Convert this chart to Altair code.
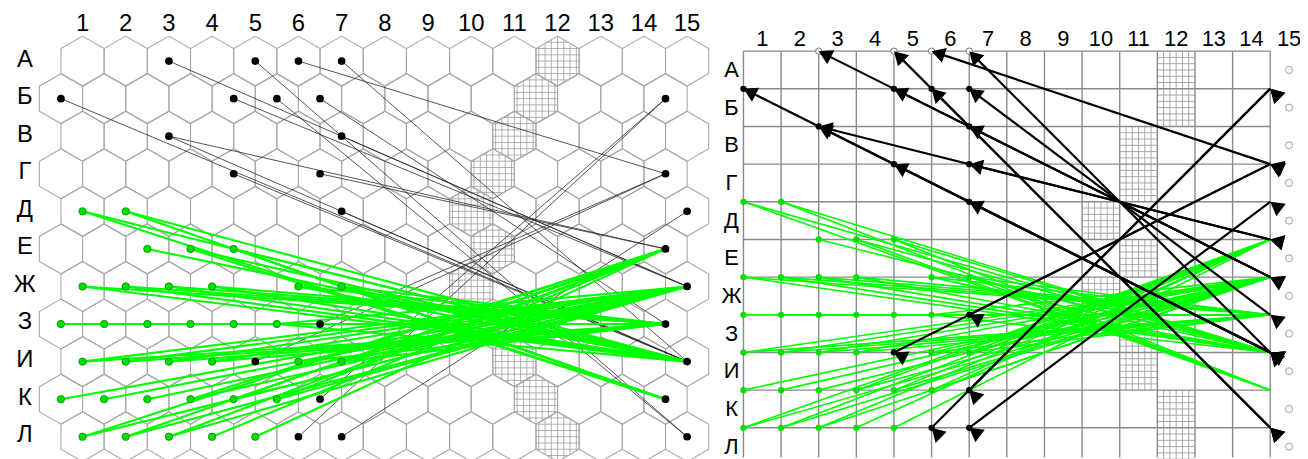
import math
import altair as alt
import pandas as pd

# ---------------- data ----------------
ROWS = ["А", "Б", "В", "Г", "Д", "Е", "Ж", "З", "И", "К", "Л"]
COLS = [str(c) for c in range(1, 16)]

title_text = "Пробоина в средней нижней стоке (С11)."

black_sources = ["А3", "А5", "А6", "А7", "Б1", "Б5", "Б6", "Б7", "В3", "В7",
                 "Г5", "Г7", "Д7", "З7", "И5", "К7", "Л6", "Л7"]
green_sources = ["Д1", "Д2", "Е3", "Е4", "Е5", "Ж1", "Ж2", "Ж3", "Ж4", "Ж6", "Ж7",
                 "З1", "З2", "З3", "З4", "З5", "З6", "И1", "И2", "И3", "И4", "И6", "И7",
                 "К1", "К2", "К3", "К4", "К5", "К6", "Л1", "Л2", "Л3", "Л4", "Л5"]
targets = ["Б15", "Г15", "Д15", "Е15", "Ж15", "З15", "И15", "К15", "Л15"]

black_links = [("А3", "Ж15"), ("Б5", "Ж15"), ("В7", "Ж15"),
               ("А5", "Л15"), ("Б6", "Л15"),
               ("А6", "Г15"),
               ("А7", "И15"), ("Б7", "З15"),
               ("Б1", "И15"), ("В3", "И15"), ("Г5", "И15"), ("Д7", "И15"),
               ("В3", "Е15"), ("Г7", "Е15"),
               ("К7", "Б15"), ("Л6", "Б15"),
               ("З7", "Г15"), ("И5", "Г15"),
               ("Л7", "Д15")]

green_to_E = ["И7", "К4", "К5", "К6", "Л1", "Л2", "Л3", "Л4", "Л5"]
green_to_Zh = ["З6", "И1", "И2", "И3", "И4", "И6", "И7", "К1", "К2", "К3", "К4", "К5", "К6",
               "Л1", "Л2", "Л3"]
green_to_Z = ["Ж1", "Ж2", "Ж3", "Ж4", "Ж6", "Ж7", "З1", "З2", "З3", "З4", "З5", "З6",
              "И1", "И2", "И3", "И4", "И6", "И7"]
green_to_I = ["Д1", "Д2", "Е3", "Е4", "Е5", "Ж1", "Ж2", "Ж3", "Ж4", "Ж6", "Ж7", "З6"]
green_to_K = ["Д1", "Д2", "Е4", "Е5", "Ж7"]

wall_cells = ["А12", "Б12", "В11", "Г11", "Д10", "Е11", "Ж10", "З11", "И11", "К12", "Л12"]
top_open_sources = ["А3", "А5", "А6", "А7"]

# ---------------- layout constants ----------------
W, H = 1300, 451
L_XDOM = [-0.7261, 29.193]
L_YDOM = [10.5556, -1.3757]
R_XDOM = [-18.546, 15.7913]
R_YDOM = [10.7916, -1.10818]
L_PX = (43.45, 37.8)      # px per unit (hex panel)
R_PX = (37.86, 37.9)      # px per unit (square panel)
GREEN = "#00ff00"


def cell(code):
    return ROWS.index(code[0]), int(code[1:])


def hexpos(code):
    r, c = cell(code)
    return c - 0.5 * (r % 2), r


def sqpos(code):
    r, c = cell(code)
    return c, r


green_links = ([(s, "Е15") for s in green_to_E] + [(s, "Ж15") for s in green_to_Zh] +
               [(s, "З15") for s in green_to_Z] + [(s, "И15") for s in green_to_I] +
               [(s, "К15") for s in green_to_K])

lx = alt.Scale(domain=L_XDOM, nice=False, zero=False)
ly = alt.Scale(domain=L_YDOM, nice=False, zero=False)
rx = alt.Scale(domain=R_XDOM, nice=False, zero=False)
ry = alt.Scale(domain=R_YDOM, nice=False, zero=False)


def X(s, f="x"):
    return alt.X(f"{f}:Q", scale=s, axis=None)


def Y(s, f="y"):
    return alt.Y(f"{f}:Q", scale=s, axis=None)


# ---------------- hex panel ----------------
R_HEX = L_PX[0] / math.sqrt(3)          # circumradius px
rr = R_HEX / L_PX[1]                    # in row units
hex_off = [(0, -rr), (0.5, -rr / 2), (0.5, rr / 2), (0, rr), (-0.5, rr / 2), (-0.5, -rr / 2), (0, -rr)]
hex_rows = []
for r in range(len(ROWS)):
    for c in range(1, 16):
        code = f"{ROWS[r]}{c}"
        cx, cy = hexpos(code)
        for k, (dx, dy) in enumerate(hex_off):
            hex_rows.append({"hid": code, "k": k, "x": cx + dx, "y": cy + dy})
hex_df = pd.DataFrame(hex_rows)

# hatch inside wall hexes
hatch_l = []
a_px = L_PX[0] / 2
step = 6.3
for code in wall_cells:
    cx, cy = hexpos(code)
    for k in range(-3, 4):
        d = k * step
        hh = R_HEX - (R_HEX / 2) * abs(d) / a_px
        hatch_l.append({"x": cx + d / L_PX[0], "x2": cx + d / L_PX[0],
                        "y": cy - hh / L_PX[1], "y2": cy + hh / L_PX[1]})
        hw = a_px if abs(d) <= R_HEX / 2 else a_px * (R_HEX - abs(d)) / (R_HEX / 2)
        hatch_l.append({"x": cx - hw / L_PX[0], "x2": cx + hw / L_PX[0],
                        "y": cy + d / L_PX[1], "y2": cy + d / L_PX[1]})
hatch_l_df = pd.DataFrame(hatch_l)


def link_df(links, pos):
    rows = []
    for s, t in links:
        x1, y1 = pos(s)
        x2, y2 = pos(t)
        rows.append({"x": x1, "y": y1, "x2": x2, "y2": y2, "src": s, "tgt": t})
    return pd.DataFrame(rows)


def pts_df(codes, pos):
    return pd.DataFrame([{"x": pos(c)[0], "y": pos(c)[1], "cell": c} for c in codes])


lb = link_df(black_links, hexpos)
lg = link_df(green_links, hexpos)

left_layers = [
    alt.Chart(hatch_l_df).mark_rule(color="#9c9c9c", strokeWidth=0.8).encode(
        x=X(lx), y=Y(ly), x2="x2:Q", y2="y2:Q"),
    alt.Chart(hex_df).mark_line(color="#a8a8a8", strokeWidth=1.1).encode(
        x=X(lx), y=Y(ly), detail="hid:N", order="k:Q"),
    alt.Chart(lb).mark_rule(color="#2a2a2a", strokeWidth=0.8).encode(
        x=X(lx), y=Y(ly), x2="x2:Q", y2="y2:Q"),
    alt.Chart(lg).mark_rule(color=GREEN, strokeWidth=2.1).encode(
        x=X(lx), y=Y(ly), x2="x2:Q", y2="y2:Q"),
    alt.Chart(pts_df(green_sources, hexpos)).mark_circle(
        size=55, color="#00e000", opacity=1, stroke="#008800", strokeWidth=0.8).encode(
        x=X(lx), y=Y(ly)),
    alt.Chart(pts_df(black_sources + targets, hexpos)).mark_circle(
        size=60, color="#000000", opacity=1).encode(x=X(lx), y=Y(ly)),
    alt.Chart(pd.DataFrame({"x": [int(c) for c in COLS], "y": [-0.98] * 15, "t": COLS})).mark_text(
        font="Liberation Sans", fontSize=24, color="#000000", baseline="middle", align="center").encode(
        x=X(lx), y=Y(ly), text="t:N"),
    alt.Chart(pd.DataFrame({"x": [-0.335] * 11, "y": [r - 0.04 for r in range(11)], "t": ROWS})).mark_text(
        font="Liberation Sans", fontSize=24, color="#000000", baseline="middle", align="center").encode(
        x=X(lx), y=Y(ly), text="t:N"),
    alt.Chart(pd.DataFrame({"x": [7.3], "y": [-1.60], "t": [title_text]})).mark_text(
        font="Liberation Sans", fontSize=21, fontWeight="bold", color="#000000",
        baseline="bottom", align="center").encode(x=X(lx), y=Y(ly), text="t:N"),
]
left = alt.layer(*left_layers)

# ---------------- square panel ----------------
grid_rows = []
for c in range(1, 16):
    grid_rows.append({"x": c, "x2": c, "y": 0, "y2": R_YDOM[0]})
for r in range(len(ROWS)):
    grid_rows.append({"x": 1, "x2": 15, "y": r, "y2": r})
grid_df = pd.DataFrame(grid_rows)

hatch_r = []
for code in wall_cells:
    r, c = cell(code)
    for k in range(1, 6):
        f = k / 6
        hatch_r.append({"x": c + f, "x2": c + f, "y": r, "y2": r + 1})
        hatch_r.append({"x": c, "x2": c + 1, "y": r + f, "y2": r + f})
hatch_r_df = pd.DataFrame(hatch_r)

rb = link_df(black_links, sqpos)
rg = link_df(green_links, sqpos)

# arrowheads: tip on the point, pointing up-left along the line's slope
arrows = []
for s, t in black_links:
    x1, y1 = sqpos(s)
    x2, y2 = sqpos(t)
    dxp, dyp = abs(x2 - x1) * R_PX[0], abs(y2 - y1) * R_PX[1]
    ang = math.degrees(math.atan2(-dyp, -dxp)) % 360
    arrows.append({"x": x2, "y": y2, "ang": ang})
    arrows.append({"x": x1, "y": y1, "ang": ang})
arrows_df = pd.DataFrame(arrows)
ARROW = "M0,0L-1,-0.58L-1,0.58Z"

right_layers = [
    alt.Chart(hatch_r_df).mark_rule(color="#a0a0a0", strokeWidth=0.9).encode(
        x=X(rx), y=Y(ry), x2="x2:Q", y2="y2:Q"),
    alt.Chart(grid_df).mark_rule(color="#8a8a8a", strokeWidth=1.4).encode(
        x=X(rx), y=Y(ry), x2="x2:Q", y2="y2:Q"),
    alt.Chart(rg).mark_rule(color=GREEN, strokeWidth=1.6).encode(
        x=X(rx), y=Y(ry), x2="x2:Q", y2="y2:Q"),
    alt.Chart(rb).mark_rule(color="#000000", strokeWidth=2.2).encode(
        x=X(rx), y=Y(ry), x2="x2:Q", y2="y2:Q"),
    alt.Chart(pts_df(green_sources, sqpos)).mark_circle(
        size=40, color="#00e000", opacity=1).encode(x=X(rx), y=Y(ry)),
    alt.Chart(pts_df([s for s in black_sources if s not in top_open_sources], sqpos)).mark_circle(
        size=40, color="#000000", opacity=1).encode(x=X(rx), y=Y(ry)),
    alt.Chart(pts_df(top_open_sources, sqpos)).mark_point(
        size=40, shape="circle", color="#777777", filled=False, strokeWidth=1, fill="#ffffff",
        fillOpacity=1).encode(x=X(rx), y=Y(ry)),
    alt.Chart(pd.DataFrame({"x": [15.5] * 11, "y": [r + 0.5 for r in range(11)]})).mark_point(
        size=50, shape="circle", color="#777777", filled=False, strokeWidth=1).encode(
        x=X(rx), y=Y(ry)),
    alt.Chart(arrows_df).mark_point(shape=ARROW, size=740, filled=True, color="#000000",
                                    opacity=1, strokeWidth=0).encode(
        x=X(rx), y=Y(ry), angle=alt.Angle("ang:Q", scale=None)),
    alt.Chart(pd.DataFrame({"x": [c + 0.5 for c in range(1, 16)], "y": [-0.317] * 15, "t": COLS})).mark_text(
        font="Liberation Sans", fontSize=22, color="#000000", baseline="middle", align="center").encode(
        x=X(rx), y=Y(ry), text="t:N"),
    alt.Chart(pd.DataFrame({"x": [0.683] * 11, "y": [r + 0.5 for r in range(11)], "t": ROWS})).mark_text(
        font="Liberation Sans", fontSize=22, color="#000000", baseline="middle", align="center").encode(
        x=X(rx), y=Y(ry), text="t:N"),
]
right = alt.layer(*right_layers)

chart = alt.layer(left, right).resolve_scale(x="independent", y="independent").properties(
    width=W, height=H, padding=0, autosize=alt.AutoSizeParams(type="none")
).configure_view(strokeWidth=0)

chart.save("out.html", embed_options={"renderer": "svg", "actions": False})
